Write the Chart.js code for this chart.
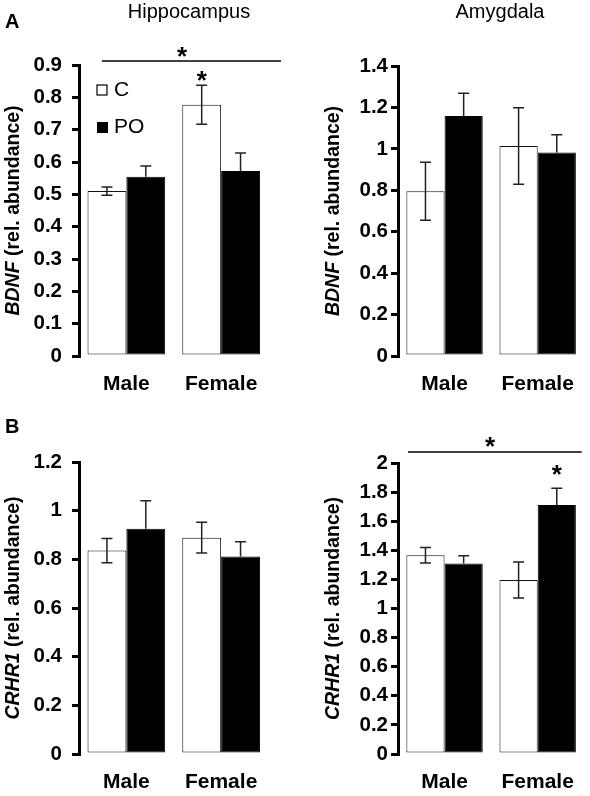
<!DOCTYPE html>
<html>
<head>
<meta charset="utf-8">
<script src="https://cdn.jsdelivr.net/npm/chart.js@4.4.1/dist/chart.umd.min.js"></script>
<style>
  body { margin: 0; background: #fff; }
  .wrap { position: relative; width: 590px; height: 796px; }
  canvas { position: absolute; }
</style>
</head>
<body>
<div class="wrap">
  <canvas id="hipBdnf" width="295" height="398" style="left:0;top:0"></canvas>
  <canvas id="amyBdnf" width="295" height="398" style="left:295px;top:0"></canvas>
  <canvas id="hipCrhr" width="295" height="398" style="left:0;top:398px"></canvas>
  <canvas id="amyCrhr" width="295" height="398" style="left:295px;top:398px"></canvas>
</div>
<script>
// categories and groups
const sexes = ['Male', 'Female'];
const groups = ['C', 'PO'];

// BDNF, hippocampus
const hipBdnfC = [0.51, 0.777];
const hipBdnfCErr = [0.013, 0.06];
const hipBdnfPO = [0.554, 0.572];
const hipBdnfPOErr = [0.034, 0.056];
const hipBdnfTicks = ['0', '0.1', '0.2', '0.3', '0.4', '0.5', '0.6', '0.7', '0.8', '0.9'];

// BDNF, amygdala
const amyBdnfC = [0.795, 1.014];
const amyBdnfCErr = [0.14, 0.185];
const amyBdnfPO = [1.159, 0.983];
const amyBdnfPOErr = [0.11, 0.085];
const amyBdnfTicks = ['0', '0.2', '0.4', '0.6', '0.8', '1', '1.2', '1.4'];

// CRHR1, hippocampus
const hipCrhrC = [0.836, 0.889];
const hipCrhrCErr = [0.05, 0.063];
const hipCrhrPO = [0.926, 0.812];
const hipCrhrPOErr = [0.115, 0.06];
const hipCrhrTicks = ['0', '0.2', '0.4', '0.6', '0.8', '1', '1.2'];

// CRHR1, amygdala
const amyCrhrC = [1.366, 1.196];
const amyCrhrCErr = [0.053, 0.123];
const amyCrhrPO = [1.31, 1.711];
const amyCrhrPOErr = [0.053, 0.115];
const amyCrhrTicks = ['0', '0.2', '0.4', '0.6', '0.8', '1', '1.2', '1.4', '1.6', '1.8', '2'];

const fam = '"Liberation Sans", Arial, Helvetica, sans-serif';

function drawStar(ctx, x, cy) {
    ctx.font = 'bold 26px ' + fam;
    ctx.textAlign = 'center';
    ctx.textBaseline = 'alphabetic';
    ctx.fillStyle = '#000';
    ctx.fillText('*', x, cy + 0.56 * 26);
}

const extras = {
    id: 'extras',
    afterDatasetsDraw(chart, args, o) {
        const ctx = chart.ctx;
        const ys = chart.scales.y;
        ctx.save();
        ctx.strokeStyle = '#222';
        ctx.lineWidth = 1.5;
        chart.data.datasets.forEach((ds, di) => {
            // lower half is hidden inside the black bars
            const dark = ds.backgroundColor === '#000';
            chart.getDatasetMeta(di).data.forEach((bar, i) => {
                const v = ds.data[i], e = o.errors[di][i];
                const top = ys.getPixelForValue(v + e);
                const bot = ys.getPixelForValue(v - e);
                ctx.beginPath();
                ctx.moveTo(bar.x, top); ctx.lineTo(bar.x, dark ? bar.y : bot);
                ctx.moveTo(bar.x - 5.5, top); ctx.lineTo(bar.x + 5.5, top);
                if (!dark) { ctx.moveTo(bar.x - 5.5, bot); ctx.lineTo(bar.x + 5.5, bot); }
                ctx.stroke();
            });
        });
        ctx.restore();
    },
    afterDraw(chart, args, o) {
        const ctx = chart.ctx;
        const a = chart.chartArea;
        ctx.save();
        ctx.fillStyle = '#000';

        if (o.title) {
            ctx.font = '20px ' + fam;
            ctx.textAlign = 'center';
            ctx.textBaseline = 'alphabetic';
            ctx.fillText(o.title, o.titleX, 18);
        }
        if (o.letter) {
            ctx.font = 'bold 20px ' + fam;
            ctx.textAlign = 'left';
            ctx.fillText(o.letter, 5, o.letterY);
        }

        // y axis title: italic gene name + plain rest
        const f1 = 'italic bold 19.5px ' + fam, f2 = 'bold 19.5px ' + fam;
        ctx.font = f1; const w1 = ctx.measureText(o.gene).width;
        ctx.font = f2; const w2 = ctx.measureText(' (rel. abundance)').width;
        ctx.translate(o.yTitleX, (a.top + a.bottom) / 2);
        ctx.rotate(-Math.PI / 2);
        ctx.textAlign = 'left';
        ctx.textBaseline = 'middle';
        ctx.font = f1; ctx.fillText(o.gene, -(w1 + w2) / 2, 0);
        ctx.font = f2; ctx.fillText(' (rel. abundance)', -(w1 + w2) / 2 + w1, 0);
        ctx.setTransform(1, 0, 0, 1, 0, 0);

        if (o.legend) {
            const ds = chart.data.datasets;
            ctx.lineWidth = 1.2;
            ctx.strokeStyle = '#000';
            ctx.fillStyle = ds[0].backgroundColor;
            ctx.fillRect(a.left + 18, a.top + 20, 10, 10);
            ctx.strokeRect(a.left + 18, a.top + 20, 10, 10);
            ctx.fillStyle = ds[1].backgroundColor;
            ctx.fillRect(a.left + 18, a.top + 57, 11, 11);
            ctx.fillStyle = '#000';
            ctx.font = '21px ' + fam;
            ctx.textAlign = 'left';
            ctx.textBaseline = 'middle';
            ctx.fillText(ds[0].label, a.left + 35, a.top + 25);
            ctx.fillText(ds[1].label, a.left + 35, a.top + 62);
        }

        if (o.sig) {
            const ly = a.top + o.sig.dy;
            ctx.strokeStyle = '#000';
            ctx.lineWidth = 1.6;
            ctx.beginPath();
            ctx.moveTo(a.left + o.sig.x1, ly);
            ctx.lineTo(a.right + o.sig.x2, ly);
            ctx.stroke();
            drawStar(ctx, a.left + o.sig.starX, ly - o.sig.starGap);
        }
        if (o.star) {
            const ds = chart.data.datasets[o.star.ds];
            const bar = chart.getDatasetMeta(o.star.ds).data[o.star.i];
            const v = ds.data[o.star.i] + o.errors[o.star.ds][o.star.i];
            drawStar(ctx, bar.x, chart.scales.y.getPixelForValue(v) - o.star.gap);
        }
        ctx.restore();
    }
};

function makePanel(id, p) {
    return new Chart(document.getElementById(id), {
        type: 'bar',
        data: {
            labels: sexes,
            datasets: [
                { label: groups[0], data: p.c, backgroundColor: '#fff', borderColor: '#111', borderWidth: 1,
                  borderSkipped: false, categoryPercentage: 0.82, barPercentage: 1 },
                { label: groups[1], data: p.po, backgroundColor: '#000', borderColor: '#000', borderWidth: 1,
                  borderSkipped: false, categoryPercentage: 0.82, barPercentage: 1 }
            ]
        },
        options: {
            responsive: false,
            animation: false,
            devicePixelRatio: 1,
            layout: { padding: { top: p.top, right: 295 - p.right, left: 0, bottom: 0 } },
            plugins: {
                legend: { display: false },
                tooltip: { enabled: false },
                extras: p.extras
            },
            scales: {
                x: {
                    grid: { display: false, drawTicks: false },
                    border: { display: false },
                    ticks: { color: '#000', padding: 16, font: { family: fam, size: 21, weight: 'bold' } },
                    afterFit: s => { s.height = 42; }
                },
                y: {
                    min: 0,
                    max: +p.ticks[p.ticks.length - 1],
                    grid: { drawOnChartArea: false, drawTicks: true, tickLength: 7, lineWidth: 3, color: '#000' },
                    border: { display: true, width: 3, color: '#000' },
                    ticks: {
                        color: '#000', padding: p.tickPad,
                        font: { family: fam, size: 20.5, weight: 'bold' },
                        callback: (v, i) => p.ticks[i]
                    },
                    afterBuildTicks: s => { s.ticks = p.ticks.map(t => ({ value: +t })); },
                    afterFit: s => { s.width = p.left; }
                }
            }
        },
        plugins: [extras]
    });
}

makePanel('hipBdnf', {
    c: hipBdnfC, po: hipBdnfPO, ticks: hipBdnfTicks,
    left: 79, right: 268.5, top: 65, tickPad: 10,
    extras: {
        errors: [hipBdnfCErr, hipBdnfPOErr], gene: 'BDNF', yTitleX: 14,
        title: 'Hippocampus', titleX: 189, letter: 'A', letterY: 28, legend: true,
        sig: { x1: 23, x2: 12.5, dy: -4, starX: 103, starGap: 11 },
        star: { ds: 0, i: 1, gap: 11 }
    }
});

makePanel('amyBdnf', {
    c: amyBdnfC, po: amyBdnfPO, ticks: amyBdnfTicks,
    left: 103, right: 294.5, top: 66, tickPad: 3,
    extras: {
        errors: [amyBdnfCErr, amyBdnfPOErr], gene: 'BDNF', yTitleX: 39,
        title: 'Amygdala', titleX: 205
    }
});

makePanel('hipCrhr', {
    c: hipCrhrC, po: hipCrhrPO, ticks: hipCrhrTicks,
    left: 79, right: 268.5, top: 64, tickPad: 10,
    extras: {
        errors: [hipCrhrCErr, hipCrhrPOErr], gene: 'CRHR1', yTitleX: 14,
        letter: 'B', letterY: 35
    }
});

makePanel('amyCrhr', {
    c: amyCrhrC, po: amyCrhrPO, ticks: amyCrhrTicks,
    left: 103, right: 294.5, top: 65, tickPad: 3,
    extras: {
        errors: [amyCrhrCErr, amyCrhrPOErr], gene: 'CRHR1', yTitleX: 39,
        sig: { x1: 10, x2: -2.5, dy: -11, starX: 92, starGap: 12 },
        star: { ds: 1, i: 1, gap: 20 }
    }
});
</script>
</body>
</html>
